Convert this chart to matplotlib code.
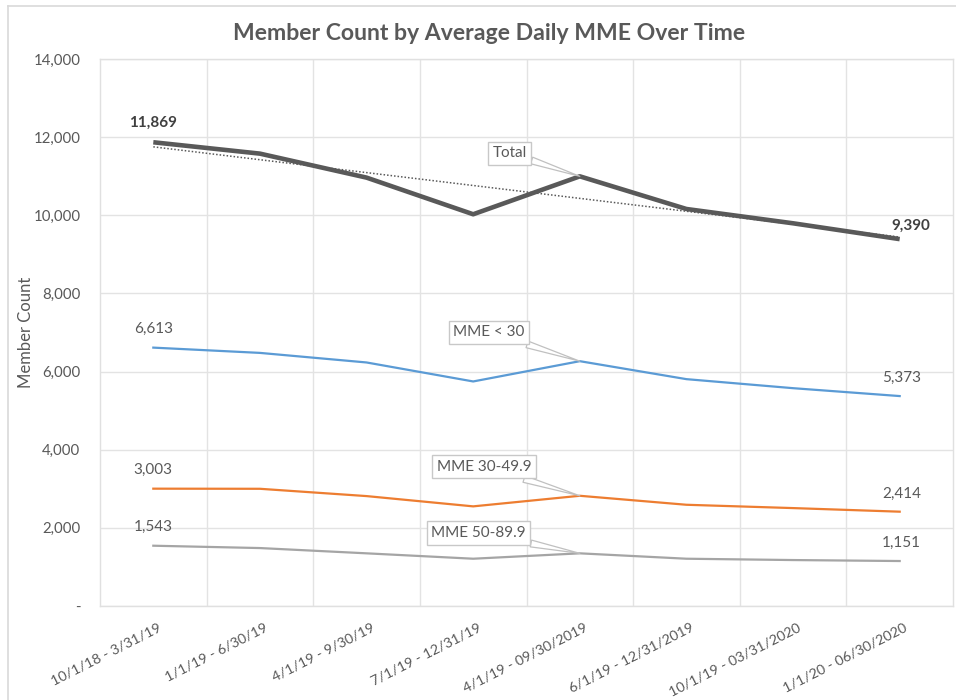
import numpy as np
import matplotlib
matplotlib.use("Agg")
import matplotlib.pyplot as plt
from matplotlib.transforms import ScaledTranslation
from matplotlib.ticker import FuncFormatter
from matplotlib.lines import Line2D

categories = ["10/1/18 - 3/31/19", "1/1/19 - 6/30/19", "4/1/19 - 9/30/19",
              "7/1/19 - 12/31/19", "4/1/19 - 09/30/2019", "6/1/19 - 12/31/2019",
              "10/1/19 - 03/31/2020", "1/1/20 - 06/30/2020"]
total = [11869, 11578, 10964, 10026, 10997, 10161, 9795, 9390]
mme_lt30 = [6613, 6478, 6233, 5747, 6266, 5806, 5575, 5373]
mme_30_49 = [3003, 3000, 2813, 2550, 2821, 2591, 2506, 2414]
mme_50_89 = [1543, 1483, 1348, 1210, 1348, 1210, 1176, 1151]
yticks = [0, 2000, 4000, 6000, 8000, 10000, 12000, 14000]

FONT = "Lato"
TXT = "#595959"
plt.rcParams["font.family"] = [FONT, "DejaVu Sans"]

W, H = 956, 700
fig = plt.figure(figsize=(W / 100, H / 100), dpi=100)
fig.patch.set_facecolor("white")

# chart frame
fig.add_artist(Line2D([8 / W, 1], [1 - 6 / H, 1 - 6 / H], transform=fig.transFigure, color="#d9d9d9", lw=1.2))
fig.add_artist(Line2D([8 / W, 8 / W], [0, 1 - 6 / H], transform=fig.transFigure, color="#d9d9d9", lw=1.2))

L, R, T, B = 100, 953, 59, 606
ax = fig.add_axes([L / W, 1 - B / H, (R - L) / W, (B - T) / H])

x = np.arange(len(categories))
ax.set_xlim(-0.5, len(categories) - 0.5)
ax.set_ylim(0, 14000)

# gridlines
ax.set_yticks(yticks)
ax.yaxis.set_major_formatter(FuncFormatter(lambda v, p: "-" if v == 0 else f"{int(v):,}"))
ax.set_xticks(x)
ax.set_xticklabels(categories, rotation=27, ha="right", rotation_mode="anchor", fontsize=10.3)
ax.set_xticks(np.arange(0.5, len(categories) - 0.5, 1), minor=True)
ax.grid(True, axis="y", which="major", color="#e3e3e3", lw=1)
ax.grid(True, axis="x", which="minor", color="#e3e3e3", lw=1)
ax.set_axisbelow(True)
for s in ax.spines.values():
    s.set_color("#e0e0e0")
    s.set_linewidth(1)
ax.tick_params(axis="both", which="both", length=0)
ax.tick_params(axis="y", labelsize=10.8, labelcolor=TXT, pad=14)
ax.tick_params(axis="x", labelcolor=TXT, pad=11)
for lbl in ax.get_xticklabels():
    lbl.set_transform(lbl.get_transform() + ScaledTranslation(4 / 100, 0, fig.dpi_scale_trans))

ax.set_ylabel("Member Count", fontsize=12, color=TXT)
ax.yaxis.set_label_coords((34 - L) / (R - L), 0.5)

# series
ax.plot(x, mme_50_89, color="#a5a5a5", lw=1.6, solid_joinstyle="round")
ax.plot(x, mme_30_49, color="#ed7d31", lw=1.6, solid_joinstyle="round")
ax.plot(x, mme_lt30, color="#5b9bd5", lw=1.6, solid_joinstyle="round")
coef = np.polyfit(x, total, 1)
ax.plot(x, np.polyval(coef, x), color="#595959", lw=1.1, ls=(0, (1, 1.3)))
ax.plot(x, total, color="#595959", lw=3.3, solid_joinstyle="round", solid_capstyle="butt")

# data labels
def lab(i, series, dx, dy, bold=False):
    ax.annotate(f"{series[i]:,}", (x[i], series[i]), xytext=(dx, dy), textcoords="offset pixels",
                ha="center", va="center", fontsize=11, color="#404040" if bold else TXT,
                fontweight="bold" if bold else "normal")

lab(0, total, 0, 19, True)
lab(7, total, 11, 13, True)
for s in (mme_lt30, mme_30_49, mme_50_89):
    lab(0, s, 0, 19)
    lab(7, s, 2, 18)

# callouts
def callout(text, series, bx, by):
    ax.annotate(text, (x[4], series[4]), xytext=(bx, by), textcoords="data",
                ha="center", va="center", fontsize=11, color=TXT,
                bbox=dict(boxstyle="square,pad=0.3", fc="white", ec="#c8c8c8", lw=1),
                arrowprops=dict(arrowstyle="wedge,tail_width=0.45,shrink_factor=0.5",
                                fc="white", ec="#c0c0c0", lw=0.9, shrinkA=0, shrinkB=0),
                zorder=5)

callout("Total", total, 3.34, 11590)
callout("MME < 30", mme_lt30, 3.15, 7005)
callout("MME 30-49.9", mme_30_49, 3.10, 3560)
callout("MME 50-89.9", mme_50_89, 3.05, 1870)

fig.text(489 / W, 1 - 33 / H, "Member Count by Average Daily MME Over Time", ha="center", va="center",
         fontsize=16.6, fontweight="bold", color=TXT)

fig.savefig("out.png", dpi=100)
